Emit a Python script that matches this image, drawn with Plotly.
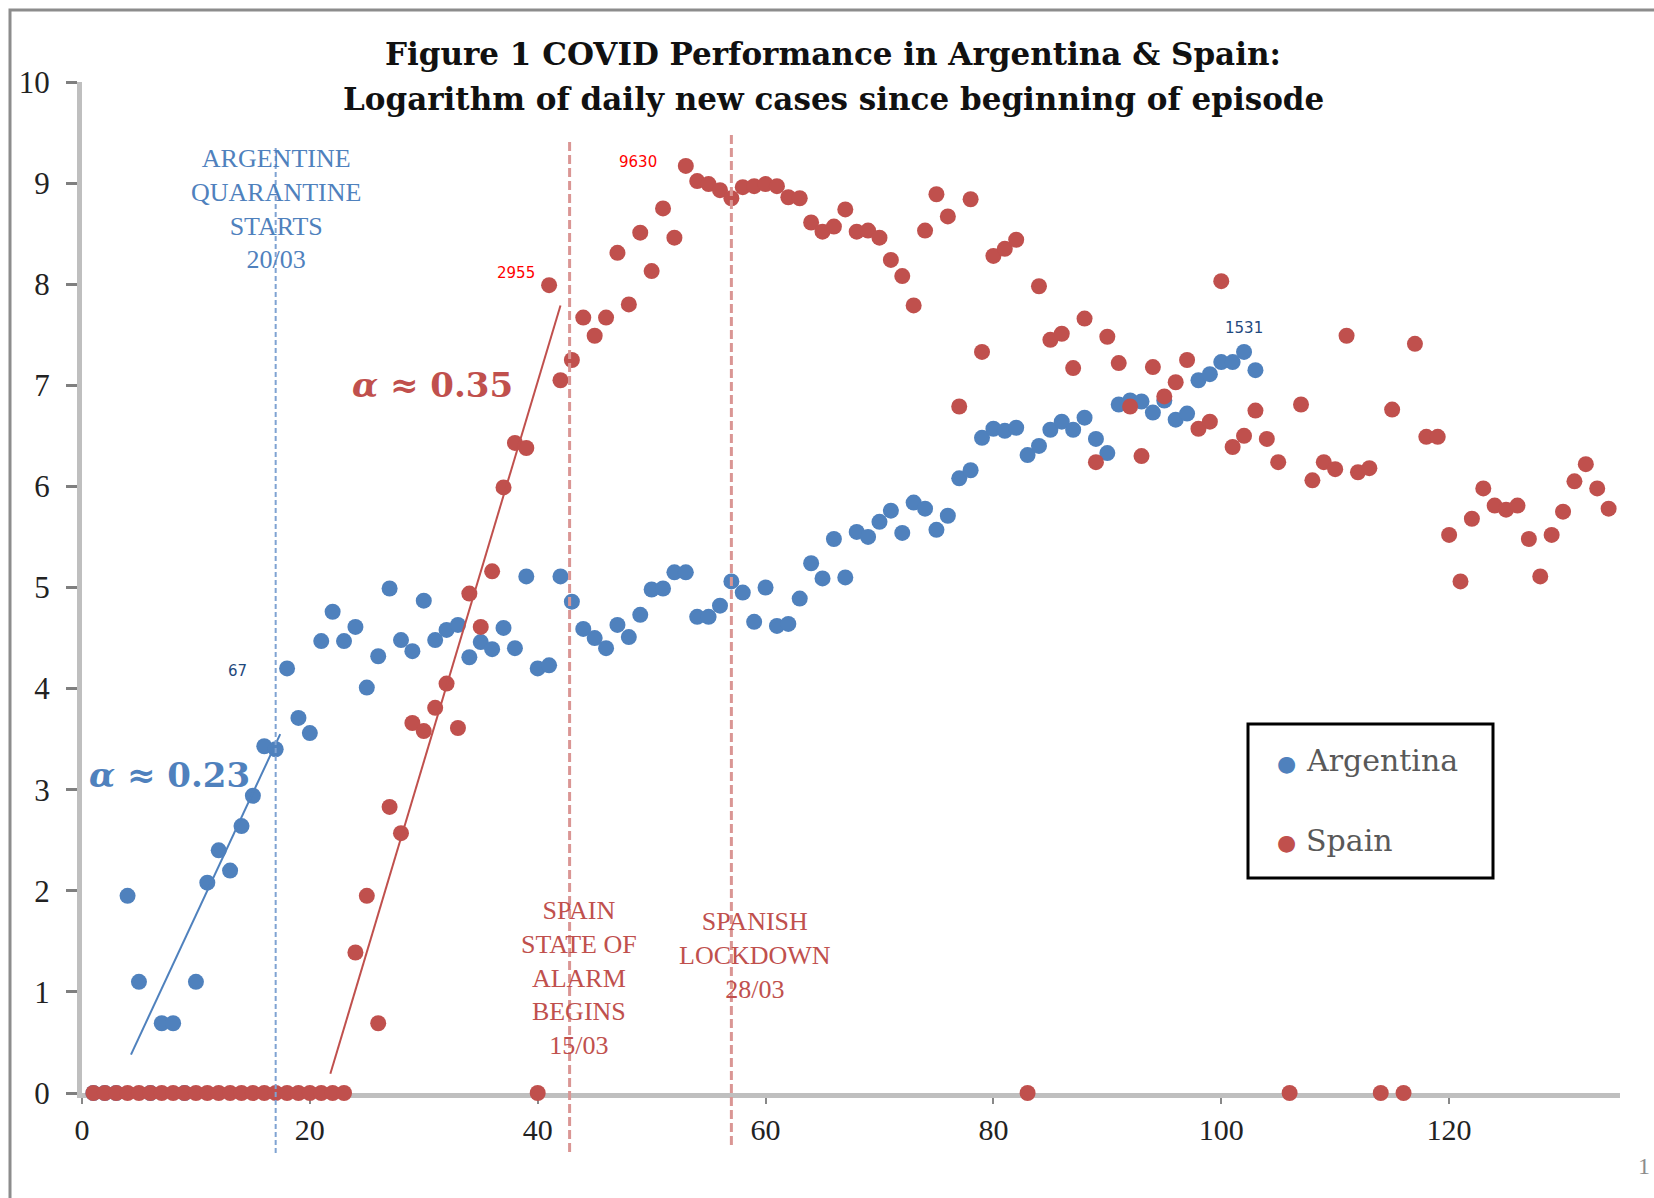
import plotly.graph_objects as go

# ---------------- data (natural log of daily new cases) ----------------
days_arg = list(range(1, 104))
argentina = [0, 0, 0, 1.95, 1.10, 0, 0.69, 0.69, 0, 1.10,
             2.08, 2.40, 2.20, 2.64, 2.94, 3.43, 3.40, 4.20, 3.71, 3.56,
             4.47, 4.76, 4.47, 4.61, 4.01, 4.32, 4.99, 4.48, 4.37, 4.87,
             4.48, 4.58, 4.63, 4.31, 4.46, 4.39, 4.60, 4.40, 5.11, 4.20,
             4.23, 5.11, 4.86, 4.59, 4.50, 4.40, 4.63, 4.51, 4.73, 4.98,
             4.99, 5.15, 5.15, 4.71, 4.71, 4.82, 5.06, 4.95, 4.66, 5.00,
             4.62, 4.64, 4.89, 5.24, 5.09, 5.48, 5.10, 5.55, 5.50, 5.65,
             5.76, 5.54, 5.84, 5.78, 5.57, 5.71, 6.08, 6.16, 6.48, 6.57,
             6.55, 6.58, 6.31, 6.40, 6.56, 6.64, 6.56, 6.68, 6.47, 6.33,
             6.81, 6.85, 6.84, 6.73, 6.85, 6.66, 6.72, 7.05, 7.11, 7.23,
             7.23, 7.33, 7.15]

days_esp = list(range(1, 135))
spain = [0, 0, 0, 0, 0, 0, 0, 0, 0, 0,
         0, 0, 0, 0, 0, 0, 0, 0, 0, 0,
         0, 0, 0, 1.39, 1.95, 0.69, 2.83, 2.57, 3.66, 3.58,
         3.81, 4.05, 3.61, 4.94, 4.61, 5.16, 5.99, 6.43, 6.38, 0,
         7.99, 7.05, 7.25, 7.67, 7.49, 7.67, 8.31, 7.80, 8.51, 8.13,
         8.75, 8.46, 9.17, 9.02, 8.99, 8.93, 8.85, 8.96, 8.97, 8.99,
         8.97, 8.86, 8.85, 8.61, 8.52, 8.57, 8.74, 8.52, 8.53, 8.46,
         8.24, 8.08, 7.79, 8.53, 8.89, 8.67, 6.79, 8.84, 7.33, 8.28,
         8.35, 8.44, 0, 7.98, 7.45, 7.51, 7.17, 7.66, 6.24, 7.48,
         7.22, 6.79, 6.30, 7.18, 6.89, 7.03, 7.25, 6.57, 6.64, 8.03,
         6.39, 6.50, 6.75, 6.47, 6.24, 0, 6.81, 6.06, 6.24, 6.17,
         7.49, 6.14, 6.18, 0, 6.76, 0, 7.41, 6.49, 6.49, 5.52,
         5.06, 5.68, 5.98, 5.81, 5.77, 5.81, 5.48, 5.11, 5.52, 5.75,
         6.05, 6.22, 5.98, 5.78]

x_ticks = [0, 20, 40, 60, 80, 100, 120]
y_ticks = list(range(0, 11))

# fitted growth segments (as drawn on the figure)
arg_fit_days = [4.3, 17.4]
arg_fit_log = [0.38, 3.55]
esp_fit_days = [21.8, 42.0]
esp_fit_log = [0.19, 7.79]

# event days (vertical markers)
arg_quarantine_day = 17
esp_alarm_day = 42.8
esp_lockdown_day = 57

# ---------------- layout geometry ----------------
W, H = 1654, 1198
ML, MR, MT, MB = 82, 34, 82, 105
PW, PH = W - ML - MR, H - MT - MB


def px(xp):
    return (xp - ML) / PW


def py(yp):
    return (H - MB - yp) / PH


BLUE = "#4F81BD"
RED = "#C0504D"
SERIF = "Liberation Serif"
WIDE_SERIF = "DejaVu Serif"

fig = go.Figure()

fig.add_trace(go.Scatter(x=days_arg, y=argentina, mode="markers", name="Argentina",
                         marker=dict(color=BLUE, size=16), cliponaxis=False))
fig.add_trace(go.Scatter(x=days_esp, y=spain, mode="markers", name="Spain",
                         marker=dict(color=RED, size=16), cliponaxis=False))
fig.add_trace(go.Scatter(x=arg_fit_days, y=arg_fit_log, mode="lines", showlegend=False,
                         line=dict(color=BLUE, width=2), hoverinfo="skip"))
fig.add_trace(go.Scatter(x=esp_fit_days, y=esp_fit_log, mode="lines", showlegend=False,
                         line=dict(color=RED, width=2), hoverinfo="skip"))

shapes = [
    # outer frame
    dict(type="rect", xref="paper", yref="paper", x0=px(10), x1=px(1720),
         y0=py(10), y1=py(1260), line=dict(color="#8C8C8C", width=3), layer="below"),
    # event lines
    dict(type="line", xref="x", yref="paper", x0=arg_quarantine_day, x1=arg_quarantine_day,
         y0=py(148), y1=py(1155), line=dict(color="#7FA3D2", width=2, dash="5px,3px")),
    dict(type="line", xref="x", yref="paper", x0=esp_alarm_day, x1=esp_alarm_day,
         y0=py(142), y1=py(1155), line=dict(color="#DA9694", width=3, dash="9px,4px")),
    dict(type="line", xref="x", yref="paper", x0=esp_lockdown_day, x1=esp_lockdown_day,
         y0=py(135), y1=py(1145), line=dict(color="#DA9694", width=3, dash="9px,4px")),
    # legend box
    dict(type="rect", xref="paper", yref="paper", x0=px(1248), x1=px(1493),
         y0=py(724), y1=py(878), line=dict(color="black", width=3), fillcolor="white"),
]

ann = []


def text(xp, yp, t, size, color, family=SERIF, xanchor="center"):
    ann.append(dict(xref="paper", yref="paper", x=px(xp), y=py(yp), text=t,
                    showarrow=False, xanchor=xanchor, yanchor="middle",
                    font=dict(size=size, color=color, family=family)))


# title
text(833, 54, "<b>Figure 1 COVID Performance in Argentina &amp; Spain:</b>", 31, "#111111", WIDE_SERIF)
text(833, 99, "<b>Logarithm of daily new cases since beginning of episode</b>", 31, "#111111", WIDE_SERIF)

# event labels
text(276, 209, "ARGENTINE<br>QUARANTINE<br>STARTS<br>20/03", 26, "#4F81BD")
text(579, 978, "SPAIN<br>STATE OF<br>ALARM<br>BEGINS<br>15/03", 26, "#C0504D")
text(755, 955, "SPANISH<br>LOCKDOWN<br>28/03", 26, "#C0504D")

# growth rates
text(432, 385, "<b><i>α</i> ≈ 0.35</b>", 34, RED, WIDE_SERIF)
text(169, 775, "<b><i>α</i> ≈ 0.23</b>", 34, BLUE, WIDE_SERIF)

# point labels
text(237, 671, "67", 15, "#1F497D", "DejaVu Sans")
text(516, 273, "2955", 15, "#FF0000", "DejaVu Sans")
text(638, 162, "9630", 15, "#FF0000", "DejaVu Sans")
text(1244, 328, "1531", 15, "#1F497D", "DejaVu Sans")

# legend
text(1286, 763, "●", 22, BLUE, "DejaVu Sans")
text(1286, 842, "●", 22, RED, "DejaVu Sans")
text(1304, 760, "Argentina", 30, "#595959", WIDE_SERIF, xanchor="left")
text(1304, 840, "Spain", 30, "#595959", WIDE_SERIF, xanchor="left")

# page number fragment
text(1636, 1166, "1", 24, "#8C8C8C", SERIF, xanchor="left")

fig.update_layout(
    width=W, height=H, autosize=False,
    margin=dict(l=ML, r=MR, t=MT, b=MB),
    paper_bgcolor="white", plot_bgcolor="white",
    showlegend=False,
    shapes=shapes, annotations=ann,
    xaxis=dict(range=[0, 135], tickvals=x_ticks, ticktext=[str(v) for v in x_ticks],
               showgrid=False, zeroline=False, showline=True, linecolor="#BFBFBF", linewidth=5,
               ticks="outside", ticklen=6, tickwidth=2, tickcolor="#888888",
               tickfont=dict(family=SERIF, size=30, color="#222222"),
               ticklabelstandoff=0, layer="below traces"),
    yaxis=dict(range=[0, 10], tickvals=y_ticks, ticktext=[str(v) for v in y_ticks],
               showgrid=False, zeroline=False, showline=True, linecolor="#BFBFBF", linewidth=5,
               ticks="outside", ticklen=11, tickwidth=3, tickcolor="#7F7F7F",
               tickfont=dict(family=SERIF, size=31, color="#222222"),
               ticklabelstandoff=10, layer="below traces"),
)

fig.write_html("out.html")
